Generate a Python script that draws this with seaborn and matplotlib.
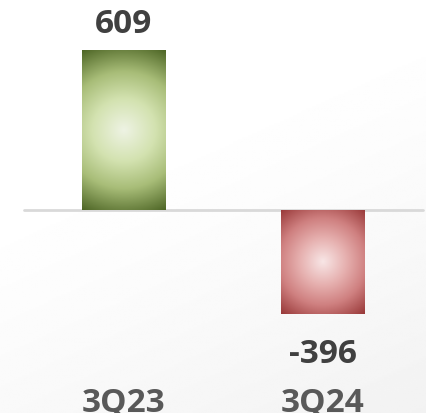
import numpy as np
import pandas as pd
import seaborn as sns
import matplotlib.pyplot as plt
from matplotlib.colors import LinearSegmentedColormap

quarters = ["3Q23", "3Q24"]
values = [609, -396]
labels = ["609", "-396"]

green_stops = [(0, "#eef3e4"), (0.35, "#d3e2b0"), (0.65, "#a8bd78"), (1, "#4e6626")]
red_stops = [(0, "#f8e6e6"), (0.35, "#e6b0af"), (0.65, "#cf8080"), (1, "#983838")]

sns.set_theme(style="white")
plt.rcParams["font.family"] = ["Open Sans", "DejaVu Sans"]

df = pd.DataFrame({"quarter": quarters, "value": values})

fig = plt.figure(figsize=(4.26, 4.13), dpi=100)

# soft background: white top-left to light grey bottom-right
bg = fig.add_axes([0, 0, 1, 1], zorder=-1)
yy, xx = np.mgrid[0:1:200j, 0:1:200j]
shade = np.clip(0.35 * xx + 0.75 * yy - 0.35, 0, 1) ** 1.3
bg.imshow(1 - 0.075 * shade, cmap="gray", vmin=0, vmax=1, extent=[0, 1, 0, 1],
          aspect="auto", origin="upper")
bg.axis("off")

ax = fig.add_axes([0, 0, 1, 1])
ax.patch.set_alpha(0)
sns.barplot(data=df, x="quarter", y="value", ax=ax, width=0.42,
            color="#c6d9a0", linewidth=0)

ax.set_xlim(-0.623, 1.518)
ax.set_ylim(-773, 799)
ax.axhline(0, xmin=0.056, xmax=0.993, color="#d9d9d9", lw=2, zorder=1)

for patch, v, stops in zip(ax.patches, values, [green_stops, red_stops]):
    cmap = LinearSegmentedColormap.from_list("g", stops)
    x0, x1 = patch.get_x(), patch.get_x() + patch.get_width()
    y0, y1 = sorted([patch.get_y(), patch.get_y() + patch.get_height()])
    p0 = ax.transData.transform((x0, y0))
    p1 = ax.transData.transform((x1, y1))
    w, h = abs(p1[0] - p0[0]), abs(p1[1] - p0[1])
    gy, gx = np.mgrid[-h / 2:h / 2:200j, -w / 2:w / 2:200j]
    r = np.sqrt(gx ** 2 + gy ** 2) / np.sqrt((w / 2) ** 2 + (h / 2) ** 2)
    im = ax.imshow(r, cmap=cmap, vmin=0, vmax=1, extent=[x0, x1, y0, y1],
                   aspect="auto", zorder=3, interpolation="bilinear")
    im.set_clip_path(patch)
    patch.set_facecolor("none")

for i, (v, lab) in enumerate(zip(values, labels)):
    off = 12 if v > 0 else -35
    ax.annotate(lab, (i, v), xytext=(0, off), textcoords="offset points",
                ha="center", va="baseline", fontsize=24, fontweight="bold",
                color="#404040")
    ax.text(i, 0.003, quarters[i], transform=ax.get_xaxis_transform(),
            ha="center", va="baseline", fontsize=24, fontweight="bold",
            color="#595959")

ax.set_xlim(-0.623, 1.518)
ax.set_ylim(-773, 799)
ax.axis("off")

fig.savefig("out.png", dpi=100)
